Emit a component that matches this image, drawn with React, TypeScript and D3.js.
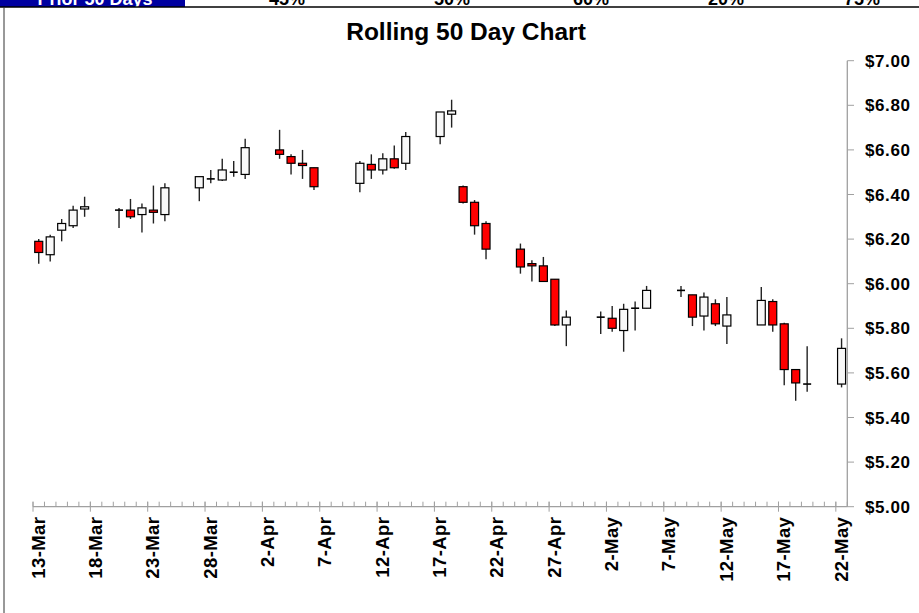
import React from "react"
import * as d3 from "d3"

// daily candles, 2023 (weekends + Good Friday have no trade)
const dates = [
  "2023-03-13", "2023-03-14", "2023-03-15", "2023-03-16", "2023-03-17",
  "2023-03-20", "2023-03-21", "2023-03-22", "2023-03-23", "2023-03-24",
  "2023-03-27", "2023-03-28", "2023-03-29", "2023-03-30", "2023-03-31",
  "2023-04-03", "2023-04-04", "2023-04-05", "2023-04-06",
  "2023-04-10", "2023-04-11", "2023-04-12", "2023-04-13", "2023-04-14",
  "2023-04-17", "2023-04-18", "2023-04-19", "2023-04-20", "2023-04-21",
  "2023-04-24", "2023-04-25", "2023-04-26", "2023-04-27", "2023-04-28",
  "2023-05-01", "2023-05-02", "2023-05-03", "2023-05-04", "2023-05-05",
  "2023-05-08", "2023-05-09", "2023-05-10", "2023-05-11", "2023-05-12",
  "2023-05-15", "2023-05-16", "2023-05-17", "2023-05-18", "2023-05-19",
  "2023-05-22",
]
const opens = [
  6.19, 6.13, 6.24, 6.26, 6.335,
  6.33, 6.33, 6.31, 6.33, 6.31,
  6.43, 6.47, 6.465, 6.50, 6.49,
  6.60, 6.57, 6.54, 6.52,
  6.45, 6.535, 6.51, 6.56, 6.54,
  6.66, 6.76, 6.435, 6.365, 6.27,
  6.155, 6.09, 6.08, 6.02, 5.815,
  5.85, 5.845, 5.79, 5.89, 5.89,
  5.97, 5.95, 5.855, 5.91, 5.81,
  5.815, 5.92, 5.82, 5.615, 5.55,
  5.55,
]
const highs = [
  6.20, 6.22, 6.29, 6.35, 6.39,
  6.34, 6.38, 6.36, 6.44, 6.45,
  6.48, 6.51, 6.56, 6.55, 6.65,
  6.69, 6.58, 6.60, 6.52,
  6.55, 6.58, 6.585, 6.62, 6.68,
  6.77, 6.825, 6.44, 6.375, 6.28,
  6.18, 6.105, 6.12, 6.02, 5.88,
  5.875, 5.90, 5.91, 5.92, 5.99,
  5.99, 5.95, 5.96, 5.93, 5.94,
  5.985, 5.93, 5.825, 5.615, 5.72,
  5.755,
]
const lows = [
  6.09, 6.10, 6.19, 6.25, 6.30,
  6.25, 6.29, 6.23, 6.27, 6.28,
  6.37, 6.45, 6.46, 6.48, 6.47,
  6.56, 6.49, 6.47, 6.42,
  6.41, 6.47, 6.49, 6.515, 6.51,
  6.625, 6.70, 6.36, 6.22, 6.11,
  6.045, 6.01, 6.01, 5.81, 5.72,
  5.775, 5.785, 5.695, 5.79, 5.89,
  5.94, 5.81, 5.79, 5.81, 5.73,
  5.815, 5.785, 5.545, 5.475, 5.515,
  5.535,
]
const closes = [
  6.14, 6.21, 6.27, 6.33, 6.345,
  6.33, 6.30, 6.34, 6.32, 6.43,
  6.48, 6.47, 6.51, 6.50, 6.61,
  6.58, 6.54, 6.53, 6.435,
  6.54, 6.51, 6.56, 6.52, 6.66,
  6.77, 6.775, 6.365, 6.26, 6.155,
  6.075, 6.08, 6.01, 5.815, 5.85,
  5.85, 5.80, 5.885, 5.89, 5.97,
  5.97, 5.85, 5.94, 5.82, 5.86,
  5.925, 5.815, 5.615, 5.555, 5.55,
  5.71,
]

const tickLabels = [
  "13-Mar", "18-Mar", "23-Mar", "28-Mar", "2-Apr", "7-Apr", "12-Apr", "17-Apr",
  "22-Apr", "27-Apr", "2-May", "7-May", "12-May", "17-May", "22-May",
]
const priceTicks = [5.0, 5.2, 5.4, 5.6, 5.8, 6.0, 6.2, 6.4, 6.6, 6.8, 7.0]

const topLabels = ["45%", "50%", "60%", "20%", "75%"]

export default function App() {
  var width = 919, height = 613
  var font = "'Liberation Sans', Arial, sans-serif"

  var start = new Date("2023-03-13T00:00:00Z")
  var end = new Date("2023-05-23T00:00:00Z")
  var x = d3.scaleUtc().domain([start, end]).range([33, 847.3])
  var y = d3.scaleLinear().domain([5, 7]).range([506.7, 60.7])

  var days = d3.utcDay.range(start, d3.utcDay.offset(end, 1))
  var majors = d3.utcDay.range(start, end, 1).filter((d, i) => i % 5 == 0)

  var candles = dates.map((d, i) => ({
    date: new Date(d + "T12:00:00Z"),
    open: opens[i], high: highs[i], low: lows[i], close: closes[i],
  }))
  var bw = 8
  var fmt = d3.format("$.2f")

  return (
    <svg width={width} height={height} style={{ position: "absolute", left: 0, top: 0, background: "#fff" }} fontFamily={font}>
      {/* banner above the chart, only its lower edge shows */}
      <rect x={0} y={0} width={185} height={7} fill="#0000a0" />
      <text x={95} y={5} textAnchor="middle" fontSize={18} fontWeight="bold" fill="#fff">Prior 50 Days</text>
      {topLabels.map((t, i) => (
        <text key={t + i} x={[287, 452, 591, 726, 862][i]} y={5} textAnchor="middle" fontSize={18} fontWeight="bold" fill="#000">{t}</text>
      ))}
      <rect x={0} y={7} width={width} height={height} fill="#fff" />
      <line x1={0} x2={width} y1={7} y2={7} stroke="#000" strokeWidth={1.5} />
      <line x1={4} x2={4} y1={7} y2={height} stroke="#333" strokeWidth={1} />

      <text x={466} y={40} textAnchor="middle" fontSize={24.5} fontWeight="bold">Rolling 50 Day Chart</text>

      {/* y axis, right side */}
      <line x1={847.3} x2={847.3} y1={y(7)} y2={y(5)} stroke="#a0a0a0" strokeWidth={1.3} />
      {priceTicks.map(p => (
        <g key={p}>
          <line x1={847.3} x2={854} y1={y(p)} y2={y(p)} stroke="#a0a0a0" strokeWidth={1} />
          <text x={865} y={y(p)} dy="0.36em" fontSize={17} fontWeight="bold" letterSpacing={0.6}>{fmt(p)}</text>
        </g>
      ))}

      {/* x axis */}
      <line x1={x(start)} x2={847.3} y1={y(5)} y2={y(5)} stroke="#a0a0a0" strokeWidth={1.3} />
      {days.map((d, i) => (
        <line key={i} x1={x(d)} x2={x(d)} y1={y(5) - 5} y2={y(5)} stroke="#a0a0a0" strokeWidth={1} />
      ))}
      {majors.map((d, i) => (
        <g key={i}>
          <line x1={x(d)} x2={x(d)} y1={y(5) - 5} y2={y(5) + 5} stroke="#a0a0a0" strokeWidth={1} />
          <text transform={`translate(${x(d) + 5},${y(5) + 10}) rotate(-90)`} dy="0.36em" textAnchor="end" fontSize={18.5} fontWeight="bold" letterSpacing={0.4}>{tickLabels[i]}</text>
        </g>
      ))}

      {/* candles */}
      {candles.map((c, i) => {
        var cx = x(c.date)
        var up = c.close >= c.open
        var top = y(Math.max(c.open, c.close))
        var bot = y(Math.min(c.open, c.close))
        return (
          <g key={i}>
            <line x1={cx} x2={cx} y1={y(c.high)} y2={y(c.low)} stroke="#222" strokeWidth={1.4} />
            {c.open == c.close
              ? <line x1={cx - bw / 2} x2={cx + bw / 2} y1={top} y2={top} stroke="#000" strokeWidth={1.6} />
              : <rect x={cx - bw / 2} y={top} width={bw} height={Math.max(bot - top, 1.5)}
                  fill={up ? "#f8f8f8" : "#ff0000"} stroke="#000" strokeWidth={1.2} />}
          </g>
        )
      })}
    </svg>
  )
}
